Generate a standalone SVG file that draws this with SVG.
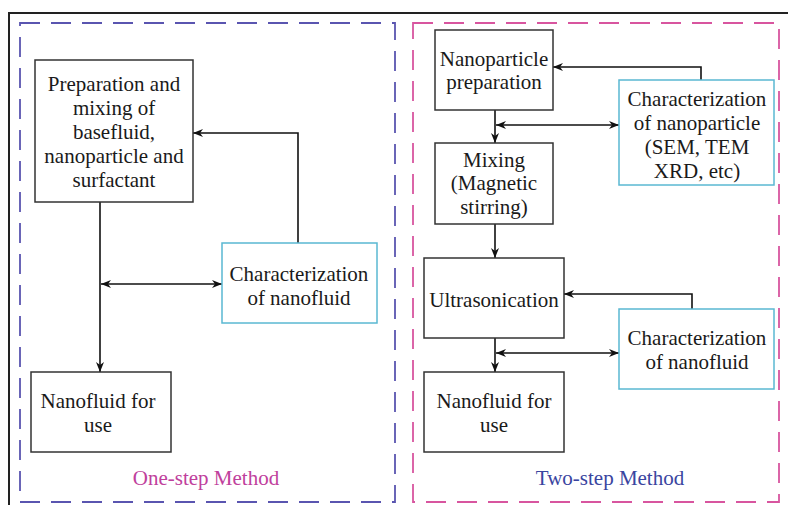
<svg xmlns="http://www.w3.org/2000/svg" width="788" height="505" viewBox="0 0 788 505">
<defs>
<style>
.t{font-family:"Liberation Serif","Times New Roman",serif;font-size:21px;fill:#1a1a1a;text-anchor:middle}
.box{fill:#fff;stroke:#333;stroke-width:1.5}
.cbox{fill:#fff;stroke:#5ab8d2;stroke-width:1.5}
.ln{fill:none;stroke:#111;stroke-width:1.6}
</style>
<marker id="ah" viewBox="0 0 10 10" refX="10" refY="5" markerWidth="10" markerHeight="10" markerUnits="userSpaceOnUse" orient="auto-start-reverse">
<path d="M0,1 L10,5 L0,9 L3,5 Z" fill="#111"/>
</marker>
</defs>
<rect width="788" height="505" fill="#fff"/>
<rect x="9" y="13" width="800" height="520" fill="none" stroke="#222" stroke-width="2"/>
<g id="one-step-group">
<rect x="20" y="23" width="375" height="479" fill="none" stroke="#5a55b0" stroke-width="1.8" stroke-dasharray="20 11"/>
<text x="206" y="485" class="t" style="fill:#c0409c">One-step Method</text>
</g>
<g id="two-step-group">
<rect x="413" y="23" width="366" height="479" fill="none" stroke="#d8559f" stroke-width="1.8" stroke-dasharray="20 11"/>
<text x="610" y="485" class="t" style="fill:#3a45a0">Two-step Method</text>
</g>
<g id="connectors">
<path class="ln" d="M100,202 V372" marker-end="url(#ah)"/>
<path class="ln" d="M101,284 H222" marker-start="url(#ah)" marker-end="url(#ah)"/>
<path class="ln" d="M298,243 V133 H193" marker-end="url(#ah)"/>
<path class="ln" d="M495,110 V143" marker-end="url(#ah)"/>
<path class="ln" d="M496,125 H619" marker-start="url(#ah)" marker-end="url(#ah)"/>
<path class="ln" d="M701,80 V67 H553" marker-end="url(#ah)"/>
<path class="ln" d="M495,224 V258" marker-end="url(#ah)"/>
<path class="ln" d="M495,338 V372" marker-end="url(#ah)"/>
<path class="ln" d="M496,353 H619" marker-start="url(#ah)" marker-end="url(#ah)"/>
<path class="ln" d="M692,309 V294 H564" marker-end="url(#ah)"/>
</g>
<g id="n-prep-mix">
<rect class="box" x="35" y="60" width="158" height="142"/>
<text class="t" x="114" y="91">Preparation and</text>
<text class="t" x="114" y="115">mixing of</text>
<text class="t" x="114" y="139">basefluid,</text>
<text class="t" x="114" y="163">nanoparticle and</text>
<text class="t" x="114" y="187">surfactant</text>
</g>
<g id="n-char-fluid-1">
<rect class="cbox" x="222" y="243" width="155" height="80"/>
<text class="t" x="299" y="281">Characterization</text>
<text class="t" x="299" y="305">of nanofluid</text>
</g>
<g id="n-use-1">
<rect class="box" x="31" y="372" width="140" height="80"/>
<text class="t" x="98" y="408">Nanofluid for</text>
<text class="t" x="98" y="432">use</text>
</g>
<g id="n-np-prep">
<rect class="box" x="435" y="30" width="118" height="80"/>
<text class="t" x="494" y="66">Nanoparticle</text>
<text class="t" x="494" y="89">preparation</text>
</g>
<g id="n-char-np">
<rect class="cbox" x="619" y="80" width="155" height="105"/>
<text class="t" x="697" y="106">Characterization</text>
<text class="t" x="697" y="130">of nanoparticle</text>
<text class="t" x="697" y="154">(SEM, TEM</text>
<text class="t" x="697" y="178">XRD, etc)</text>
</g>
<g id="n-mixing">
<rect class="box" x="435" y="143" width="118" height="81"/>
<text class="t" x="494" y="167">Mixing</text>
<text class="t" x="494" y="190">(Magnetic</text>
<text class="t" x="494" y="214">stirring)</text>
</g>
<g id="n-ultra">
<rect class="box" x="424" y="258" width="140" height="80"/>
<text class="t" x="494" y="307">Ultrasonication</text>
</g>
<g id="n-char-fluid-2">
<rect class="cbox" x="619" y="309" width="155" height="80"/>
<text class="t" x="697" y="345">Characterization</text>
<text class="t" x="697" y="369">of nanofluid</text>
</g>
<g id="n-use-2">
<rect class="box" x="424" y="372" width="140" height="80"/>
<text class="t" x="494" y="408">Nanofluid for</text>
<text class="t" x="494" y="432">use</text>
</g>
</svg>
